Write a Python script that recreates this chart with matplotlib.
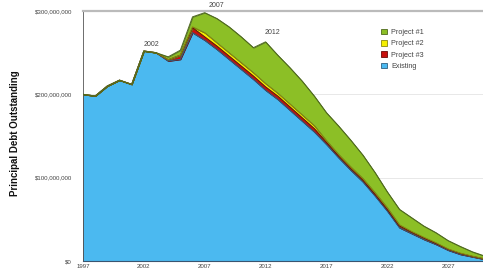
import numpy as np
import matplotlib
matplotlib.use('Agg')
from matplotlib import pyplot as plt
from matplotlib.ticker import FuncFormatter

# values in $ millions
years = np.arange(1997, 2031)
existing = [200, 198, 210, 217, 212, 252, 250, 240, 242, 274,
            265, 254, 242, 230, 218, 205, 194, 181, 168, 155,
            140, 124, 109, 95, 78, 60, 40, 33, 26, 20,
            13, 8, 5, 2]
project3 = [0, 0, 0, 0, 0, 0, 0, 1.5, 5, 6,
            4, 4, 4, 4, 4, 4, 4, 4, 4, 4,
            2.5, 2, 2, 2, 2, 2, 2, 1.5, 1.5, 1,
            1, 1, 0.5, 0.5]
project2 = [0, 0, 0, 0, 0, 0, 0, 0, 0, 1,
            5, 4, 4, 4, 4, 4, 3.5, 3.5, 3.5, 3.5,
            2, 2, 2, 2, 2, 2, 1.5, 1, 1, 1,
            0.5, 0.5, 0.3, 0.2]
project1 = [0, 0, 0, 0, 0, 0, 0, 3.5, 6, 12,
            24, 29, 31, 31, 30, 50, 45.5, 43.5, 40.5, 35.5,
            33.5, 34, 32, 28, 24, 19, 18.5, 16.5, 13.5, 12,
            10, 8, 5.2, 3.3]
series_names = ['Existing', 'Project #3', 'Project #2', 'Project #1']
labelled_years = [2002, 2007, 2012]
label_offsets = [(8, 7), (12, 7), (7, 9)]

face = ['#4BB9F0', '#C8100E', '#F5F000', '#8CBF26']
edge = ['#2F5F80', '#6A0A08', '#8A8A10', '#4F6A1E']

plt.rcParams['font.family'] = ['Liberation Sans', 'DejaVu Sans']

fig = plt.figure(figsize=(4.83, 2.73), dpi=100)
ax = fig.add_axes([83/483, 12/273, 1 - 83/483, 250/273])

layers = np.array([existing, project3, project2, project1])
polys = ax.stackplot(years, layers, colors=face, labels=series_names,
                     edgecolor='none')
tops = np.cumsum(layers, axis=0)
for i, top in enumerate(tops):
    ax.plot(years, top, color=edge[i], lw=0.7, zorder=3)
    polys[i].set_edgecolor(edge[i])
    polys[i].set_linewidth(0.3)

total = tops[-1]
for yr, off in zip(labelled_years, label_offsets):
    k = list(years).index(yr)
    ax.annotate(str(yr), (yr, total[k]), xytext=off, textcoords='offset pixels',
                ha='center', va='center', fontsize=5, color='#444444',
                annotation_clip=False)

ax.set_xlim(1997, 1997 + 400/12.17)
ax.set_ylim(0, 300)
ax.set_xticks(np.arange(1997, 2030, 5))
ax.set_yticks([0, 100, 200, 300])
ax.yaxis.set_major_formatter(FuncFormatter(
    lambda v, p: '$0' if v == 0 else '${:,.0f}'.format(v * 1e6)))
ax.tick_params(axis='both', length=0, labelsize=4.4, colors='#444444')
ax.tick_params(axis='y', pad=8)
ax.tick_params(axis='x', pad=2)
ax.grid(axis='y', color='#E4E4E4', lw=0.6)
ax.set_axisbelow(True)

ax.spines['top'].set_color('#BBBBBB')
ax.spines['top'].set_linewidth(1.6)
ax.spines['right'].set_color('#EEEEEE')
ax.spines['right'].set_linewidth(0.6)
ax.spines['left'].set_color('#555555')
ax.spines['left'].set_linewidth(0.6)
ax.spines['bottom'].set_color('#3A5570')
ax.spines['bottom'].set_linewidth(0.8)

fig.text(15/483, 1 - 133/273, 'Principal Debt Outstanding', rotation=90,
         ha='center', va='center', fontsize=7, fontweight='bold', color='#111111')

handles, labels = ax.get_legend_handles_labels()
for h, e in zip(handles, edge):
    h.set_edgecolor(e)
    h.set_linewidth(0.6)
leg = ax.legend(handles[::-1], labels[::-1], loc='upper left',
                bbox_to_anchor=((378 - 83)/400, (261 - 26)/250),
                frameon=False, fontsize=5.2, handlelength=0.8, handleheight=0.8,
                handletextpad=0.6, labelspacing=0.55, borderaxespad=0)
for t in leg.get_texts():
    t.set_color('#444444')

fig.savefig('out.png', dpi=100)
